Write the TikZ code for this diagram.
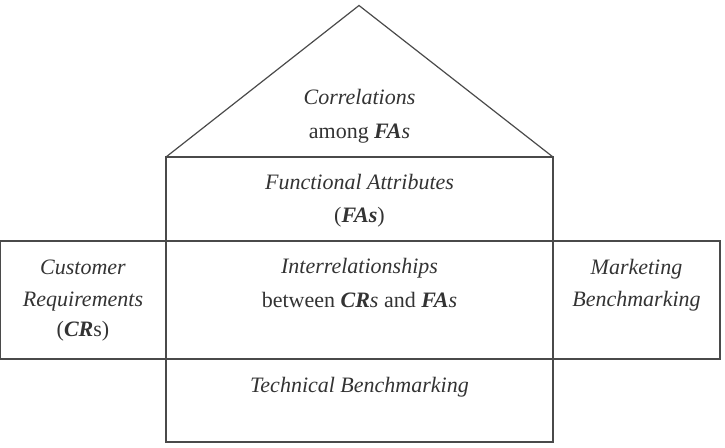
\documentclass[tikz,border=0pt]{standalone}
\usepackage{fontspec}
\setmainfont{Liberation Serif}
\definecolor{linec}{HTML}{4A4A4A}
\definecolor{textc}{HTML}{333333}
\newcommand{\bi}[1]{\textbf{\textit{#1}}}
\begin{document}
\begin{tikzpicture}[x=1pt,y=-1pt,
  frame/.style={draw=linec,line width=1.2pt,line join=miter},
  lbl/.style={anchor=base,inner sep=0pt,text=textc,font=\fontsize{22}{26}\selectfont}]
\useasboundingbox (0,0) rectangle (725,447);
% roof
\draw[frame] (166,157) -- (359,5.5) -- (553,157);
% central column
\draw[frame] (166,157) rectangle (553,442);
\draw[frame] (166,241) -- (553,241);
\draw[frame] (166,359) -- (553,359);
% side rooms
\draw[frame] (0.8,241) rectangle (166,359);
\draw[frame] (553,241) rectangle (720,359);
% texts
\node[lbl] (corr1) at (359.5,104) {\textit{Correlations}};
\node[lbl] (corr2) at (359.5,138) {among \bi{FA}\textit{s}};
\node[lbl] (fa1) at (359.5,189) {\textit{Functional Attributes}};
\node[lbl] (fa2) at (359.5,222) {(\bi{FAs})};
\node[lbl] (ir1) at (359.5,273) {\textit{Interrelationships}};
\node[lbl] (ir2) at (359.5,307) {between \bi{CR}\textit{s} and \bi{FA}\textit{s}};
\node[lbl] (tb) at (359.5,392) {\textit{Technical Benchmarking}};
\node[lbl] (cr1) at (83,274) {\textit{Customer}};
\node[lbl] (cr2) at (83,306) {\textit{Requirements}};
\node[lbl] (cr3) at (83,336) {(\bi{CR}s)};
\node[lbl] (mb1) at (636.5,274) {\textit{Marketing}};
\node[lbl] (mb2) at (636.5,306) {\textit{Benchmarking}};
\end{tikzpicture}
\end{document}
